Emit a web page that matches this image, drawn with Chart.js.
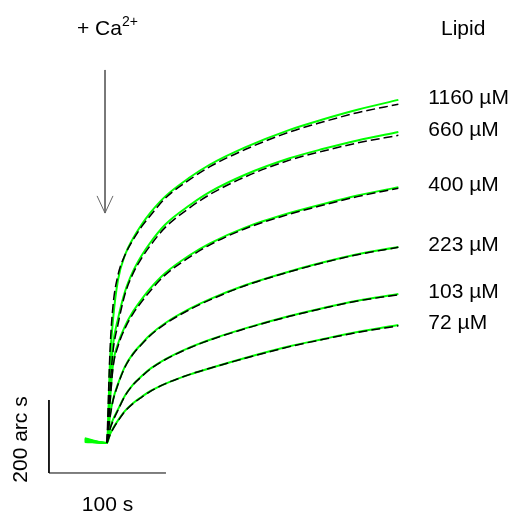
<!DOCTYPE html>
<html>
<head>
<meta charset="utf-8">
<script src="https://cdn.jsdelivr.net/npm/chart.js@4"></script>
<style>
  body { margin: 0; background: #fff; }
  #wrap { width: 517px; height: 513px; }
</style>
</head>
<body>
<div id="wrap"><canvas id="chart" width="517" height="513"></canvas></div>
<script>
// time after Ca2+ addition (s) and signal (arc s)
const times = [0, 2.6, 5.1, 9.4, 15.4, 22.2, 29.9, 36.8, 49.6, 70.9, 88, 118, 156, 185, 214, 249];
const lipidLabels = ['1160 µM', '660 µM', '400 µM', '223 µM', '103 µM', '72 µM'];

const data1160 = [0, 227, 337, 447, 515, 560, 600, 630, 675, 728, 763, 810, 858, 887, 913, 940];
const data660 = [0, 173, 269, 340, 415, 470, 515, 548, 598, 652, 688, 735, 780, 806, 829, 852];
const data400 = [0, 118, 215, 272, 320, 360, 395, 423, 465, 515, 547, 590, 630, 655, 678, 701];
const data223 = [0, 77, 118, 162, 210, 245, 273, 296, 328, 368, 394, 432, 470, 495, 517, 537];
const data103 = [0, 41, 64, 92, 130, 160, 184, 203, 229, 262, 283, 314, 348, 370, 390, 408];
const data72 = [0, 24, 40, 62, 88, 109, 127, 142, 162, 188, 205, 233, 265, 285, 304, 323];

const fit1160 = [0, 255, 375, 460, 515, 556, 594, 622, 670, 722, 757, 804, 852, 880, 905, 928];
const fit660 = [0, 150, 250, 325, 408, 464, 508, 540, 590, 645, 681, 729, 775, 800, 822, 843];
const fit400 = [0, 110, 205, 265, 314, 354, 388, 416, 460, 510, 543, 587, 627, 652, 675, 698];
const fit223 = [0, 70, 115, 160, 208, 243, 271, 294, 326, 366, 392, 431, 469, 494, 516, 536];
const fit103 = [0, 38, 60, 90, 129, 159, 183, 202, 228, 261, 282, 313, 347, 369, 389, 406];
const fit72 = [0, 22, 38, 60, 87, 108, 126, 141, 162, 188, 205, 232, 264, 284, 303, 321];

// signal before Ca2+ addition
const preTime = -19;
const preValues = [13, 11, 9, 7, 5, 3];

// scale bars: 100 s and 200 arc s
const scaleBarT = [-49.6, -49.6, 50.4];
const scaleBarV = [117.8, -82.2, -82.2];

// Ca2+ addition arrow
const arrowShaftT = [-1.7, -1.7];
const arrowShaftV = [1022, 630];
const arrowHeadT = [-8.5, -1.7, 5.1];
const arrowHeadV = [677, 630, 677];

const dataSeries = [data1160, data660, data400, data223, data103, data72];
const fitSeries = [fit1160, fit660, fit400, fit223, fit103, fit72];

const pts = (xs, ys) => xs.map((x, i) => ({ x: x, y: ys[i] }));
const font = '"Liberation Sans", Arial, sans-serif';

const datasets = [];
dataSeries.forEach((s, i) => {
    datasets.push({
        data: [{ x: preTime, y: preValues[i] }].concat(pts(times, s)),
        borderColor: '#00ff00', borderWidth: 2, order: 2
    });
});
fitSeries.forEach(s => {
    datasets.push({
        data: pts(times, s),
        borderColor: '#000', borderWidth: 1.5, borderDash: [9, 4], order: 1
    });
});
datasets.push({ data: pts(scaleBarT, scaleBarV), borderColor: '#000', borderWidth: 1, tension: 0, cubicInterpolationMode: 'default', order: 3 });
datasets.push({ data: pts(arrowShaftT, arrowShaftV), borderColor: '#666', borderWidth: 1, tension: 0, cubicInterpolationMode: 'default', order: 3 });
datasets.push({ data: pts(arrowHeadT, arrowHeadV), borderColor: '#666', borderWidth: 1, tension: 0, cubicInterpolationMode: 'default', order: 3 });

const textPlugin = {
    id: 'texts',
    afterDraw(chart) {
        const ctx = chart.ctx;
        const xs = chart.scales.x, ys = chart.scales.y;
        ctx.save();
        ctx.fillStyle = '#000';
        ctx.textBaseline = 'alphabetic';
        ctx.font = '21px ' + font;
        ctx.textAlign = 'left';
        // + Ca2+
        ctx.fillText('+ Ca', 77, 35);
        const w = ctx.measureText('+ Ca').width;
        ctx.font = '14px ' + font;
        ctx.fillText('2+', 77 + w, 26);
        ctx.font = '21px ' + font;
        ctx.fillText('Lipid', 441, 35);
        // concentration labels next to curve ends
        const xEnd = xs.getPixelForValue(times[times.length - 1]);
        dataSeries.forEach((s, i) => {
            const y = ys.getPixelForValue(s[s.length - 1]);
            ctx.fillText(lipidLabels[i], xEnd + 30, y + 4);
        });
        // scale bar labels
        ctx.textAlign = 'center';
        ctx.fillText('100 s', xs.getPixelForValue((scaleBarT[1] + scaleBarT[2]) / 2), 511);
        ctx.save();
        ctx.translate(27, ys.getPixelForValue((scaleBarV[0] + scaleBarV[1]) / 2) + 3);
        ctx.rotate(-Math.PI / 2);
        ctx.fillText('200 arc s', 0, 0);
        ctx.restore();
        ctx.restore();
    }
};

new Chart(document.getElementById('chart'), {
    type: 'line',
    data: { datasets: datasets },
    options: {
        responsive: false,
        animation: false,
        devicePixelRatio: 1,
        layout: { padding: 0 },
        elements: {
            point: { radius: 0 },
            line: { cubicInterpolationMode: 'monotone', fill: false }
        },
        plugins: { legend: { display: false }, tooltip: { enabled: false } },
        scales: {
            x: { type: 'linear', display: false, min: -91.45, max: 350.4 },
            y: { type: 'linear', display: false, min: -191.8, max: 1213.7 }
        }
    },
    plugins: [textPlugin]
});
</script>
</body>
</html>
